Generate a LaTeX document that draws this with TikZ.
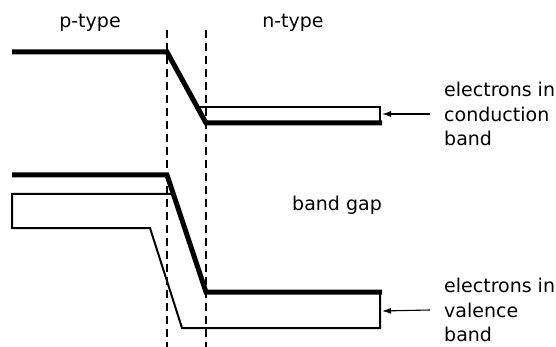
\documentclass[tikz,border=0pt]{standalone}
\usepackage{fontspec}
\setmainfont{DejaVu Sans}
\usetikzlibrary{arrows.meta}
\begin{document}
\begin{tikzpicture}[x=1pt,y=-1pt,
    band/.style={line width=5pt, line join=miter},
    bandedge/.style={line width=2pt},
    junction/.style={line width=1.2pt, dash pattern=on 8pt off 5pt},
    lab/.style={font=\fontsize{19}{24.5}\selectfont, inner sep=0pt},
    pointer/.style={line width=1.1pt, -{Latex[length=9pt,width=6pt]}}]

    \useasboundingbox (0,0) rectangle (556,347);

    \draw[junction] (167,30) -- (167,347); % left edge of junction
    \draw[junction] (206,30) -- (206,347); % right edge of junction

    \draw[bandedge] % conduction band, n side
    (197,107) -- (380,107) -- (380,123);
    \draw[band]
    (12,52) -- (167,52) -- (206,123) -- (382,123);

    \draw[bandedge] % valence band outline
    (173,194) -- (12,194) -- (12,228) -- (150,228) -- (182,328) -- (380,328) -- (380,292);
    \draw[band]
    (12,175) -- (167,175) -- (206,292) -- (382,292);

    \node[lab] (ptype) at (90,23) {p-type};
    \node[lab] (ntype) at (293,23) {n-type};
    \node[lab] (gap) at (337,205) {band gap};

    \node[lab, align=left, anchor=west] (cblabel) at (444,114) {electrons in\\conduction\\band};
    \node[lab, align=left, anchor=west] (vblabel) at (444,310) {electrons in\\valence\\band};

    \coordinate (cbedge) at (382,114);
    \coordinate (vbedge) at (382,311);

    \draw[pointer] ([xshift=-14pt]cblabel.west) -- (cbedge); % arrow to conduction band
    \draw[pointer] ([xshift=-14pt]vblabel.west) -- (vbedge); % arrow to valence band

\end{tikzpicture}
\end{document}
